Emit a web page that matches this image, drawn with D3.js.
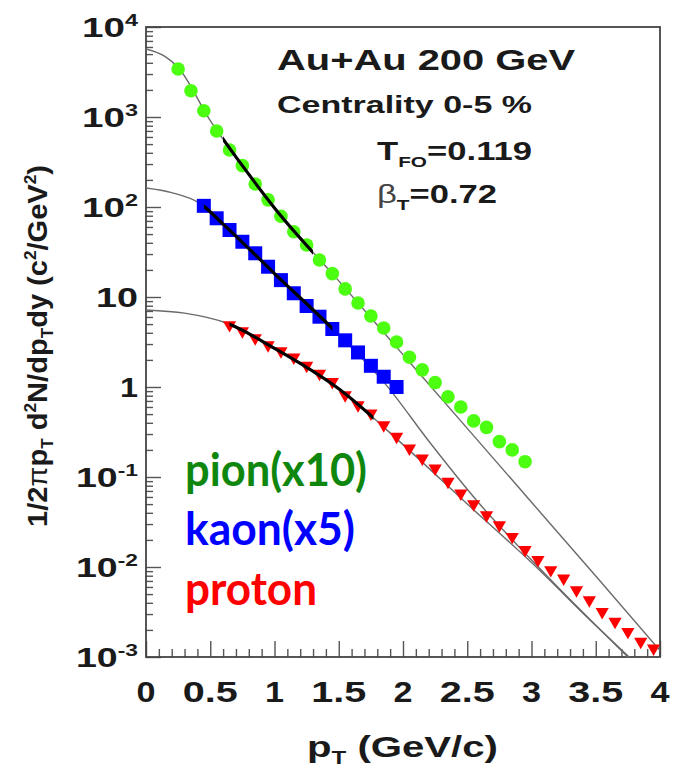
<!DOCTYPE html>
<html>
<head>
<meta charset="utf-8">
<script src="https://cdn.jsdelivr.net/npm/d3@7"></script>
<style>
  html, body { margin: 0; padding: 0; background: #fff; }
  svg { display: block; }
</style>
</head>
<body>
<div id="chart"></div>
<script>
/* pT spectra, Au+Au 200 GeV, 0-5% — blast-wave fit overlay */

// Measured spectra (pT in GeV/c, yield in c^2/GeV^2)
const PION_PT = [0.25, 0.35, 0.45, 0.55, 0.65, 0.75, 0.85, 0.95, 1.05, 1.15, 1.25, 1.35, 1.45, 1.55,
  1.65, 1.75, 1.85, 1.95, 2.05, 2.15, 2.25, 2.35, 2.45, 2.55, 2.65, 2.75, 2.85, 2.95];
const PION_Y = [3410, 1960, 1175, 698, 430, 288, 180, 120, 79, 53, 37.8, 25.8, 18.2, 12.3,
  8.57, 6.15, 4.53, 3.16, 2.14, 1.55, 1.12, 0.78, 0.60, 0.42, 0.356, 0.247, 0.20, 0.148];

const KAON_PT = [0.45, 0.55, 0.65, 0.75, 0.85, 0.95, 1.05, 1.15, 1.25, 1.35, 1.45, 1.55, 1.65, 1.75, 1.85, 1.95];
const KAON_Y = [103, 74.9, 55.5, 41.1, 30.6, 21.7, 15.4, 11.0, 7.94, 6.04, 4.41, 3.30, 2.42, 1.72, 1.30, 1.0];

const PROTON_PT = [0.65, 0.75, 0.85, 0.95, 1.05, 1.15, 1.25, 1.35, 1.45, 1.55, 1.65, 1.75, 1.85, 1.95,
  2.05, 2.15, 2.25, 2.35, 2.45, 2.55, 2.65, 2.75, 2.85, 2.95, 3.05, 3.15, 3.25, 3.35, 3.45, 3.55,
  3.65, 3.75, 3.85, 3.95];
const PROTON_Y = [4.89, 4.19, 3.50, 2.93, 2.51, 2.13, 1.73, 1.41, 1.14, 0.815, 0.631, 0.510, 0.378, 0.281,
  0.208, 0.161, 0.125, 0.0887, 0.0659, 0.0501, 0.0378, 0.0293, 0.0217, 0.0155, 0.0120, 0.00927, 0.00749,
  0.00555, 0.00430, 0.00318, 0.00247, 0.00191, 0.00148, 0.00125];

// Blast-wave fit curves
const PION_FIT_PT = [0, 0.15, 0.25, 0.5, 0.75, 1.0, 1.5, 2.0, 2.5, 3.0, 3.5, 4.0];
const PION_FIT_Y = [5700, 4680, 3550, 912, 288, 97.7, 15.1, 2.29, 0.347, 0.0525, 0.00794, 0.00118];
const KAON_FIT_PT = [0, 0.2, 0.42, 0.6, 1.0, 1.5, 1.87, 2.2, 2.57, 3.1, 3.75];
const KAON_FIT_Y = [162.6, 144.5, 109.6, 64.6, 18.2, 3.80, 1.05, 0.251, 0.0555, 0.00851, 0.001];
const PROTON_FIT_PT = [0, 0.3, 0.63, 1.0, 1.5, 2.0, 2.5, 3.0, 3.5, 3.76];
const PROTON_FIT_Y = [7.18, 6.61, 5.11, 2.69, 0.955, 0.229, 0.0501, 0.0112, 0.00224, 0.001];
// pT window of each fit (thick black segment)
const FIT_RANGE = { pion: [0.6, 1.3], kaon: [0.45, 1.45], proton: [0.65, 1.77] };

// Axis ticks
const X_MAJOR = [0, 0.5, 1, 1.5, 2, 2.5, 3, 3.5, 4];
const X_LABELS = ['0', '0.5', '1', '1.5', '2', '2.5', '3', '3.5', '4'];
const Y_DECADES = [-3, -2, -1, 0, 1, 2, 3, 4];
const Y_LABELS = [['10', '-3'], ['10', '-2'], ['10', '-1'], ['1', ''], ['10', ''], ['10', '2'], ['10', '3'], ['10', '4']];

const LEGEND = [
  { text: 'pion(x10)', color: '#0f870f', len: 182 },
  { text: 'kaon(x5)', color: '#0000ff', len: 170 },
  { text: 'proton', color: '#ff0000', len: 132 }
];

(function () {
  'use strict';

  const W = 673, H = 774;
  const FONT = '"Liberation Sans", Arial, Helvetica, sans-serif';
  const INK = '#1a1a1a';
  const left = 146, right = 660, top = 27, bottom = 657;

  const x = d3.scaleLinear().domain([0, 4]).range([left, right]);
  const y = d3.scaleLog().domain([1e-3, 1e4]).range([bottom, top]);

  const svg = d3.select('#chart').append('svg')
    .attr('width', W).attr('height', H)
    .attr('viewBox', `0 0 ${W} ${H}`);
  svg.append('rect').attr('width', W).attr('height', H).attr('fill', '#fff');

  const defs = svg.append('defs');
  defs.append('clipPath').attr('id', 'plot-clip')
    .append('rect').attr('x', left).attr('y', top)
    .attr('width', right - left).attr('height', bottom - top);

  // --- ticks (inward, bottom + left only)
  const xMinor = d3.range(0, 4.0001, 0.1).map(v => +v.toFixed(1)).filter(v => !X_MAJOR.includes(v));
  const yMinor = [];
  Y_DECADES.slice(0, -1).forEach(d => { for (let k = 2; k <= 9; k++) yMinor.push(k * Math.pow(10, d)); });
  const yMajor = Y_DECADES.map(d => Math.pow(10, d));

  const tickStyle = (g) => {
    g.select('.domain').remove();
    g.selectAll('line').attr('stroke', '#555').attr('stroke-width', 1.4);
    g.selectAll('text').remove();
  };

  svg.append('g').attr('transform', `translate(0,${bottom})`)
    .call(d3.axisBottom(x).tickValues(X_MAJOR).tickSize(-16)).call(tickStyle);
  svg.append('g').attr('transform', `translate(0,${bottom})`)
    .call(d3.axisBottom(x).tickValues(xMinor).tickSize(-8)).call(tickStyle);
  svg.append('g').attr('transform', `translate(${left},0)`)
    .call(d3.axisLeft(y).tickValues(yMajor).tickSize(-15)).call(tickStyle);
  svg.append('g').attr('transform', `translate(${left},0)`)
    .call(d3.axisLeft(y).tickValues(yMinor).tickSize(-7)).call(tickStyle);

  // frame
  svg.append('rect')
    .attr('x', left).attr('y', top)
    .attr('width', right - left).attr('height', bottom - top)
    .attr('fill', 'none').attr('stroke', '#444').attr('stroke-width', 1.8);

  // --- tick labels (ROOT text is rendered wide, so stretch to measured widths)
  X_MAJOR.forEach((v, i) => {
    const lab = X_LABELS[i];
    svg.append('text')
      .attr('x', x(v)).attr('y', 702)
      .attr('text-anchor', 'middle')
      .attr('font-family', FONT).attr('font-weight', 'bold').attr('font-size', 30)
      .attr('fill', INK)
      .attr('textLength', lab.length > 1 ? 55 : 19)
      .attr('lengthAdjust', 'spacingAndGlyphs')
      .text(lab);
  });

  Y_DECADES.forEach((d, i) => {
    const [base, sup] = Y_LABELS[i];
    const len = !sup ? (base === '1' ? 18 : 42) : (sup.length > 1 ? 62 : 56);
    const t = svg.append('text')
      .attr('x', 138).attr('y', y(Math.pow(10, d)) + 10)
      .attr('text-anchor', 'end')
      .attr('font-family', FONT).attr('font-weight', 'bold').attr('font-size', 28)
      .attr('fill', INK)
      .attr('textLength', len).attr('lengthAdjust', 'spacingAndGlyphs');
    t.append('tspan').text(base);
    if (sup) t.append('tspan').attr('dy', -11).attr('font-size', 17).text(sup);
  });

  // --- axis titles
  const xt = svg.append('text')
    .attr('x', 307).attr('y', 757)
    .attr('font-family', FONT).attr('font-weight', 'bold').attr('font-size', 30)
    .attr('fill', INK)
    .attr('textLength', 191).attr('lengthAdjust', 'spacingAndGlyphs');
  xt.append('tspan').text('p');
  xt.append('tspan').attr('font-size', 18).attr('dy', 7).text('T');
  xt.append('tspan').attr('dy', -7).text(' (GeV/c)');

  const yt = svg.append('text')
    .attr('transform', 'translate(47,527) rotate(-90)')
    .attr('font-family', FONT).attr('font-weight', 'bold').attr('font-size', 27)
    .attr('fill', INK)
    .attr('textLength', 362).attr('lengthAdjust', 'spacingAndGlyphs');
  yt.append('tspan').text('1/2');
  yt.append('tspan').attr('font-weight', 'normal').text('π');
  yt.append('tspan').text('p');
  yt.append('tspan').attr('font-size', 16).attr('dy', 6).text('T');
  yt.append('tspan').attr('dy', -6).text(' d');
  yt.append('tspan').attr('font-size', 16).attr('dy', -11).text('2');
  yt.append('tspan').attr('dy', 11).text('N/dp');
  yt.append('tspan').attr('font-size', 16).attr('dy', 6).text('T');
  yt.append('tspan').attr('dy', -6).text('dy (c');
  yt.append('tspan').attr('font-size', 16).attr('dy', -11).text('2');
  yt.append('tspan').attr('dy', 11).text('/GeV');
  yt.append('tspan').attr('font-size', 16).attr('dy', -11).text('2');
  yt.append('tspan').attr('dy', 11).text(')');

  // --- annotations
  const note = (tx, ty, size, len) => svg.append('text')
    .attr('x', tx).attr('y', ty)
    .attr('font-family', FONT).attr('font-weight', 'bold').attr('font-size', size)
    .attr('fill', INK)
    .attr('textLength', len).attr('lengthAdjust', 'spacingAndGlyphs');

  note(277, 70, 30, 298).text('Au+Au 200 GeV');
  note(277, 113, 23, 255).text('Centrality 0-5 %');
  const tfo = note(377, 160, 25, 155);
  tfo.append('tspan').text('T');
  tfo.append('tspan').attr('font-size', 15).attr('dy', 7).text('FO');
  tfo.append('tspan').attr('dy', -7).text('=0.119');
  const bt = note(377, 203, 25, 120);
  bt.append('tspan').attr('font-weight', 'normal').attr('fill', '#444').text('β');
  bt.append('tspan').attr('font-size', 15).attr('dy', 7).text('T');
  bt.append('tspan').attr('dy', -7).text('=0.72');

  // --- fit curves
  const line = d3.line()
    .x(d => x(d[0])).y(d => y(d[1]))
    .curve(d3.curveMonotoneX);
  const fits = [
    { key: 'pion', pts: d3.zip(PION_FIT_PT, PION_FIT_Y) },
    { key: 'kaon', pts: d3.zip(KAON_FIT_PT, KAON_FIT_Y) },
    { key: 'proton', pts: d3.zip(PROTON_FIT_PT, PROTON_FIT_Y) }
  ];

  const plot = svg.append('g').attr('clip-path', 'url(#plot-clip)');
  fits.forEach(f => {
    plot.append('path')
      .attr('d', line(f.pts))
      .attr('fill', 'none').attr('stroke', '#6a6a6a').attr('stroke-width', 1.4);
  });

  // --- data markers
  plot.append('g').selectAll('circle')
    .data(d3.zip(PION_PT, PION_Y)).join('circle')
    .attr('cx', d => x(d[0])).attr('cy', d => y(d[1]))
    .attr('r', 6.8).attr('fill', '#4cff10');

  plot.append('g').selectAll('rect')
    .data(d3.zip(KAON_PT, KAON_Y)).join('rect')
    .attr('x', d => x(d[0]) - 7).attr('y', d => y(d[1]) - 7)
    .attr('width', 14).attr('height', 14).attr('fill', '#0000ff');

  const tri = d3.symbol().type(d3.symbolTriangle).size(76);
  plot.append('g').selectAll('path')
    .data(d3.zip(PROTON_PT, PROTON_Y)).join('path')
    .attr('d', tri)
    .attr('transform', d => `translate(${x(d[0])},${y(d[1])}) rotate(180)`)
    .attr('fill', '#ff0000');

  // --- thick fit-window segments on top
  fits.forEach(f => {
    const [lo, hi] = FIT_RANGE[f.key];
    defs.append('clipPath').attr('id', `fit-${f.key}`)
      .append('rect').attr('x', x(lo)).attr('y', top)
      .attr('width', x(hi) - x(lo)).attr('height', bottom - top);
    svg.append('path')
      .attr('clip-path', `url(#fit-${f.key})`)
      .attr('d', line(f.pts))
      .attr('fill', 'none').attr('stroke', '#000').attr('stroke-width', 3.2);
  });

  // --- legend
  const LEG_BASE = [486, 545, 605];
  LEGEND.forEach((l, i) => {
    svg.append('text')
      .attr('x', 185).attr('y', LEG_BASE[i])
      .attr('font-family', 'Lato, "Open Sans", sans-serif')
      .attr('font-weight', 'bold').attr('font-size', 46)
      .attr('fill', l.color)
      .attr('textLength', l.len).attr('lengthAdjust', 'spacingAndGlyphs')
      .text(l.text);
  });
})();
</script>
</body>
</html>
